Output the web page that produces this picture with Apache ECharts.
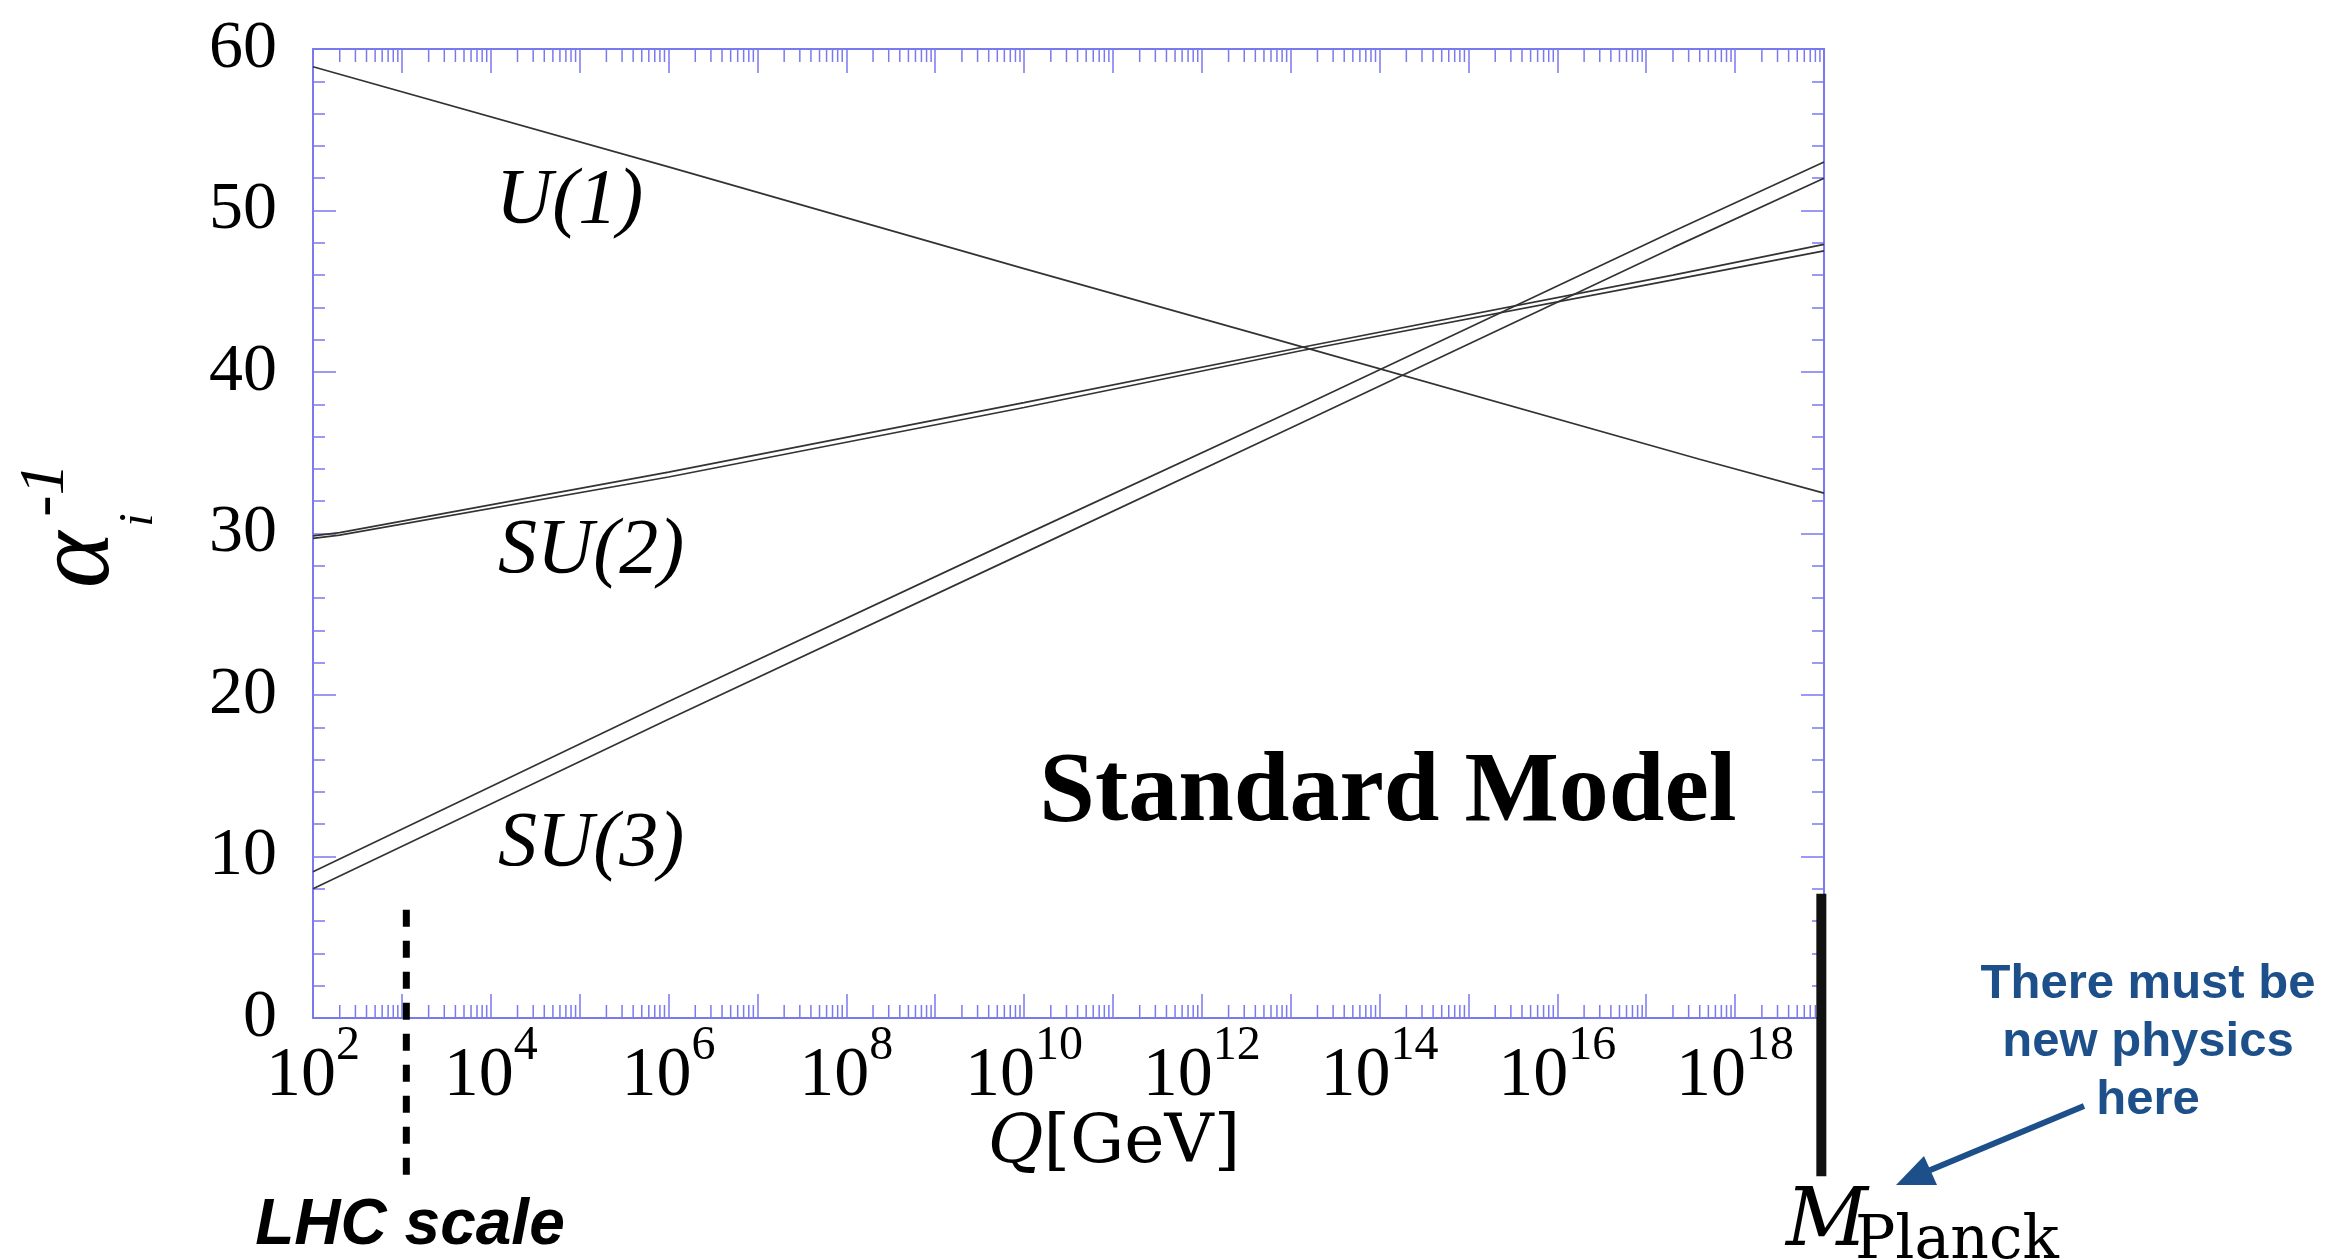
<!DOCTYPE html>
<html><head><meta charset="utf-8">
<script src="https://cdn.jsdelivr.net/npm/echarts@6/dist/echarts.min.js"></script>
<style>html,body{margin:0;padding:0;background:#fff;}#c{width:2337px;height:1259px;}</style>
</head><body><div id="c"></div>
<script>
// ---- data (x values are log10 of Q in GeV) ----
const u1Q = [2, 6, 10, 13.1, 17.6, 19];
const u1 = [58.9, 52.7, 46.4, 41.6, 34.6, 32.5];
const su2Q = [2, 2.3, 6, 10, 13.1, 17.3, 19];
const su2Upper = [29.85, 30.05, 33.8, 38.1, 41.5, 46.0, 47.9];
const su2Lower = [29.7, 29.9, 33.5, 37.8, 41.3, 45.7, 47.5];
const su3Q = [2, 6, 10, 13.1, 17.3, 19];
const su3Upper = [9.05, 19.6, 29.9, 37.8, 48.7, 53.0];
const su3Lower = [8.0, 18.5, 28.8, 36.8, 47.7, 52.0];
const xLabelExps = [2, 4, 6, 8, 10, 12, 14, 16, 18];
const yTickValues = [0, 10, 20, 30, 40, 50, 60];
const lhcMarker = [3.05, 6.7, -10];     // [log10 Q, top value, bottom value]
const planckMarker = [18.97, 7.7, -9.8];

const FRAME = '#7a7aee';
const LINE = '#333333';
const BLUE = '#1d508b';

const zip = (xs, ys) => xs.map((x, i) => [x, ys[i]]);
const minorPos = [];
for (let d = 2; d < 19; d++) for (let k = 2; k <= 9; k++) minorPos.push([d + Math.log10(k), 0]);

const chart = echarts.init(document.getElementById('c'), null, {renderer: 'canvas'});

function lineSeries(name, xs, ys) {
  return {name, type: 'line', xAxisIndex: 0, yAxisIndex: 0, data: zip(xs, ys), showSymbol: false, symbol: 'none',
    lineStyle: {color: LINE, width: 1.7}, silent: true, z: 3};
}
function markerSeries(m, style) {
  return {type: 'custom', coordinateSystem: 'cartesian2d', xAxisIndex: 0, yAxisIndex: 0, silent: true, clip: false, z: 5,
    data: [m], encode: {x: 0, y: [1, 2]},
    renderItem(params, api) {
      const p1 = api.coord([api.value(0), api.value(1)]);
      const p2 = api.coord([api.value(0), api.value(2)]);
      return {type: 'line', shape: {x1: p1[0], y1: p1[1], x2: p2[0], y2: p2[1]}, style: style};
    }};
}
function T(x, y, text, o) {
  return {type: 'text', x, y, silent: true, rotation: o.rotation || 0, z: 10,
    style: {text, fill: o.fill || '#000', fontSize: o.fontSize, fontFamily: o.fontFamily || 'Liberation Serif',
      fontStyle: o.fontStyle || 'normal', fontWeight: o.fontWeight || 'normal',
      align: o.align || 'left', verticalAlign: o.verticalAlign || 'middle',
      textAlign: o.align || 'left', textVerticalAlign: o.verticalAlign || 'middle',
      lineHeight: o.lineHeight, rich: o.rich}};
}

const axisLineStyle = {show: true, onZero: false, lineStyle: {color: FRAME, width: 2}};

const option = {
  animation: false,
  backgroundColor: '#fff',
  grid: {left: 313, top: 49, right: 513, bottom: 241, containLabel: false},
  xAxis: [
    {type: 'value', position: 'bottom', min: 2, max: 19, interval: 1,
      axisLine: axisLineStyle,
      axisTick: {show: true, inside: true, length: 24, lineStyle: {color: FRAME, width: 1.5}},
      splitLine: {show: false},
      axisLabel: {show: true, margin: 4,
        formatter: v => { const r = Math.round(v); return (Math.abs(v - r) < 1e-6 && xLabelExps.includes(r)) ? '{b|10}{s|' + r + '}' : ''; },
        rich: {
          b: {fontSize: 70, fontFamily: 'Liberation Serif', color: '#000', lineHeight: 90, verticalAlign: 'bottom'},
          s: {fontSize: 48, fontFamily: 'Liberation Serif', color: '#000', lineHeight: 48, verticalAlign: 'top'}
        }}},
    {type: 'value', position: 'top', min: 2, max: 19, interval: 1,
      axisLine: axisLineStyle,
      axisTick: {show: true, inside: true, length: 24, lineStyle: {color: FRAME, width: 1.5}},
      splitLine: {show: false}, axisLabel: {show: false}}
  ],
  yAxis: [
    {type: 'value', position: 'left', min: 0, max: 60, interval: 10,
      axisLine: axisLineStyle,
      axisTick: {show: true, inside: true, length: 23, lineStyle: {color: FRAME, width: 1.5}},
      minorTick: {show: true, splitNumber: 5, length: 12, lineStyle: {color: FRAME, width: 1.5}},
      splitLine: {show: false}, minorSplitLine: {show: false},
      axisLabel: {show: true, margin: 36, fontSize: 68, fontFamily: 'Liberation Serif', color: '#000',
        formatter: v => yTickValues.includes(v) ? String(v) : ''}},
    {type: 'value', position: 'right', min: 0, max: 60, interval: 10,
      axisLine: axisLineStyle,
      axisTick: {show: true, inside: true, length: 23, lineStyle: {color: FRAME, width: 1.5}},
      minorTick: {show: true, splitNumber: 5, length: 12, lineStyle: {color: FRAME, width: 1.5}},
      splitLine: {show: false}, axisLabel: {show: false}}
  ],
  series: [
    {type: 'custom', coordinateSystem: 'cartesian2d', xAxisIndex: 0, yAxisIndex: 0, silent: true, clip: false, z: 2,
      data: minorPos, encode: {x: 0, y: 1},
      renderItem(params, api) {
        const x = api.coord([api.value(0), 0])[0];
        const yb = api.coord([2, 0])[1];
        const yt = api.coord([2, 60])[1];
        return {type: 'group', children: [
          {type: 'line', shape: {x1: x, y1: yb, x2: x, y2: yb - 13}, style: {stroke: FRAME, lineWidth: 1.5}},
          {type: 'line', shape: {x1: x, y1: yt, x2: x, y2: yt + 13}, style: {stroke: FRAME, lineWidth: 1.5}}
        ]};
      }},
    lineSeries('U(1)', u1Q, u1),
    lineSeries('SU(2) a', su2Q, su2Upper),
    lineSeries('SU(2) b', su2Q, su2Lower),
    lineSeries('SU(3) a', su3Q, su3Upper),
    lineSeries('SU(3) b', su3Q, su3Lower),
    markerSeries(lhcMarker, {stroke: '#000', lineWidth: 7, lineDash: [17, 14]}),
    markerSeries(planckMarker, {stroke: '#111', lineWidth: 10})
  ],
  graphic: [
    T(496, 201, 'U(1)', {fontSize: 78, fontStyle: 'italic'}),
    T(498, 551, 'SU(2)', {fontSize: 78, fontStyle: 'italic'}),
    T(498, 844, 'SU(3)', {fontSize: 78, fontStyle: 'italic'}),
    T(1388, 794, 'Standard Model', {fontSize: 100, fontWeight: 'bold', align: 'center'}),
    T(80, 560, 'α', {fontSize: 108, fontStyle: 'italic', align: 'center', rotation: Math.PI / 2}),
    T(139, 520, 'i', {fontSize: 48, fontStyle: 'italic', align: 'center', rotation: Math.PI / 2}),
    T(46, 490, '-1', {fontSize: 64, fontStyle: 'italic', align: 'center', rotation: Math.PI / 2}),
    T(1114, 1144, '{q|Q}{r|[GeV]}', {align: 'center', fontSize: 68, fontFamily: 'DejaVu Serif',
      rich: {q: {fontSize: 68, fontFamily: 'DejaVu Serif', fontStyle: 'italic', fill: '#000'},
             r: {fontSize: 68, fontFamily: 'DejaVu Serif', fill: '#000'}}}),
    T(410, 1226, 'LHC scale', {fontSize: 64, fontFamily: 'Liberation Sans', fontWeight: 'bold', fontStyle: 'italic', align: 'center'}),
    T(1786, 1264, 'M', {fontSize: 80, fontFamily: 'DejaVu Serif', fontStyle: 'italic', verticalAlign: 'bottom'}),
    T(1855, 1272, 'Planck', {fontSize: 60, fontFamily: 'DejaVu Serif', verticalAlign: 'bottom'}),
    T(2148, 1042, 'There must be\nnew physics\nhere', {fontSize: 49, fontFamily: 'Liberation Sans', fontWeight: 'bold',
      fill: BLUE, align: 'center', lineHeight: 58}),
    {type: 'line', silent: true, z: 10, shape: {x1: 2084, y1: 1106, x2: 1928, y2: 1171}, style: {stroke: BLUE, lineWidth: 6}},
    {type: 'polygon', silent: true, z: 10, shape: {points: [[1896, 1185], [1937, 1185], [1924, 1156]]}, style: {fill: BLUE}}
  ]
};
chart.setOption(option);
</script></body></html>
